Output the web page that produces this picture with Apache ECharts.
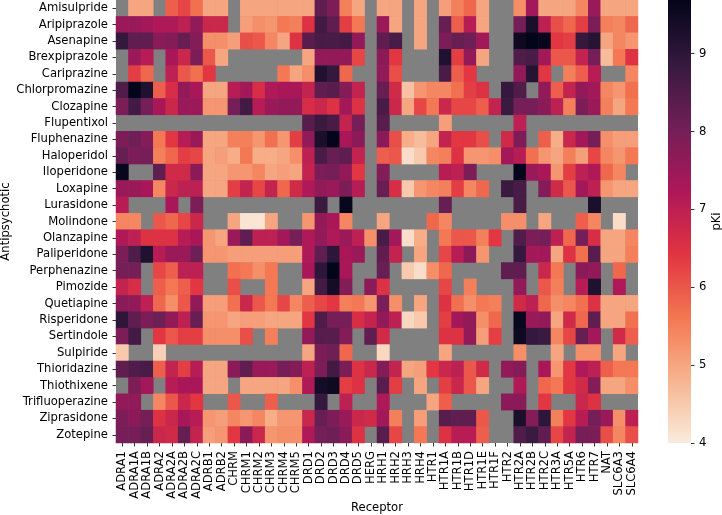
<!DOCTYPE html>
<html><head><meta charset="utf-8">
<style>html,body{margin:0;padding:0;background:#fff}#c{width:722px;height:515px}</style>
<script src="https://cdn.jsdelivr.net/npm/echarts@6/dist/echarts.min.js"></script>
</head><body><div id="c"></div>
<script>
const _ = null;
const receptors = ['ADRA1','ADRA1A','ADRA1B','ADRA2','ADRA2A','ADRA2B','ADRA2C','ADRB1','ADRB2','CHRM','CHRM1','CHRM2','CHRM3','CHRM4','CHRM5','DRD1','DRD2','DRD3','DRD4','DRD5','HERG','HRH1','HRH2','HRH3','HRH4','HTR1','HTR1A','HTR1B','HTR1D','HTR1E','HTR1F','HTR2','HTR2A','HTR2B','HTR2C','HTR3A','HTR5A','HTR6','HTR7','NAT','SLC6A3','SLC6A4'];
const drugs = ['Amisulpride','Aripiprazole','Asenapine','Brexpiprazole','Cariprazine','Chlorpromazine','Clozapine','Flupentixol','Fluphenazine','Haloperidol','Iloperidone','Loxapine','Lurasidone','Molindone','Olanzapine','Paliperidone','Perphenazine','Pimozide','Quetiapine','Risperidone','Sertindole','Sulpiride','Thioridazine','Thiothixene','Trifluoperazine','Ziprasidone','Zotepine'];
const amisulpride =[_,5.0,5.0,_,5.9,6.2,5.7,5.0,5.0,_,5.0,5.0,5.0,5.0,5.0,5.0,8.3,7.9,5.5,5.0,_,5.0,5.0,_,5.0,_,5.1,5.5,5.8,5.0,_,_,5.3,7.4,5.0,5.0,5.0,5.4,7.5,5.0,5.0,5.0];
const aripiprazole=[7.5,7.5,7.4,7.2,7.2,7.0,7.6,6.8,6.8,_,5.1,5.3,5.2,5.6,5.5,6.5,8.7,8.3,6.3,5.6,_,7.5,5.0,_,5.0,_,8.2,5.9,7.1,5.0,_,_,8.0,9.3,7.0,6.1,5.8,6.3,7.9,5.5,5.4,5.8];
const asenapine   =[8.9,8.3,8.3,7.7,7.8,8.2,7.8,5.3,5.3,5.1,6.1,6.0,5.4,5.0,6.5,8.4,8.6,8.6,8.7,7.6,_,8.3,8.6,_,5.0,_,7.9,8.2,8.1,7.4,_,_,9.5,9.7,9.6,6.4,6.3,8.9,9.1,5.0,5.4,5.2];
const brexpiprazole=[_,7.5,7.1,_,7.3,6.8,7.9,6.0,5.0,_,_,_,_,_,_,5.0,7.6,7.6,7.6,6.2,_,7.7,6.4,_,_,_,9.2,6.3,7.6,5.0,_,_,8.5,8.6,7.4,6.0,6.0,6.9,8.0,4.7,5.6,6.5];
const cariprazine =[_,6.3,5.8,_,7.0,6.0,5.7,6.4,_,_,_,_,_,5.6,5.0,5.3,9.2,8.9,5.8,_,_,7.6,6.1,_,_,_,8.6,5.9,6.4,_,_,_,7.6,9.1,6.4,_,5.5,5.9,7.1,_,_,5.4];
const chlorpromazine=[8.5,9.7,9.2,5.9,6.6,7.6,7.3,5.0,5.0,7.1,7.4,6.6,7.2,7.3,7.3,6.9,8.3,8.4,7.8,6.9,_,8.2,6.7,4.6,5.2,5.4,5.4,5.7,6.3,6.5,_,8.9,8.5,_,7.6,5.9,6.9,7.6,7.4,5.4,5.2,5.7];
const clozapine   =[7.9,8.7,8.0,7.3,6.8,7.5,7.5,5.2,5.2,8.0,8.7,7.1,7.5,7.6,7.6,6.6,6.8,6.5,7.4,6.5,_,8.6,6.8,5.0,6.2,5.6,6.8,6.2,6.2,5.9,6.9,8.8,8.0,8.0,7.7,7.0,5.5,7.9,7.5,5.5,5.0,5.6];
const flupentixol =[_,_,_,_,_,_,_,_,_,_,_,_,_,_,_,8.4,8.8,8.6,6.9,8.0,_,8.4,_,_,_,_,5.1,_,_,_,_,_,7.0,_,_,_,_,_,_,_,_,_];
const fluphenazine=[7.9,8.1,7.8,5.6,6.4,7.1,7.5,5.0,5.0,5.5,5.5,5.2,5.7,5.2,6.3,7.6,9.3,9.7,7.3,7.7,_,7.7,6.1,4.9,4.7,5.0,6.9,6.4,6.4,6.1,_,6.7,7.9,_,5.9,4.9,6.8,7.4,8.0,5.3,5.1,5.1];
const haloperidol =[8.2,7.9,8.0,5.5,5.8,6.3,6.2,5.0,5.1,4.9,5.6,4.9,4.9,5.0,5.3,7.0,8.6,8.2,8.3,6.9,_,5.9,6.0,4.2,4.5,5.4,5.5,6.5,5.2,5.2,5.3,7.4,7.1,5.7,5.2,5.0,5.5,5.1,6.2,5.4,5.2,5.6];
const iloperidone =[9.6,_,_,8.3,6.7,6.7,7.7,5.0,5.0,5.2,5.2,5.4,5.0,5.1,5.0,6.9,7.9,8.0,7.6,6.4,_,7.8,_,_,_,_,7.1,7.0,7.9,_,_,_,9.7,7.5,7.3,5.2,6.3,7.0,7.2,5.8,5.4,_];
const loxapine    =[7.5,7.5,7.3,5.4,6.8,7.0,7.0,5.0,5.0,6.3,6.9,6.2,6.9,5.8,6.7,7.2,7.6,7.5,7.9,7.1,_,8.2,6.6,4.5,5.2,5.4,5.5,6.3,5.4,5.8,_,8.8,8.6,_,7.8,6.7,6.0,7.4,7.0,5.2,5.0,5.0];
const lurasidone  =[7.1,_,_,_,7.3,_,7.9,_,_,_,_,_,_,_,_,_,8.8,_,9.6,_,_,_,_,_,_,_,8.2,_,_,_,_,_,8.6,_,_,_,_,_,9.3,_,_,_];
const molindone   =[5.4,5.4,_,6.0,5.8,6.2,6.8,_,_,5.0,4.1,4.1,5.0,_,_,5.2,7.6,7.3,5.4,_,_,5.0,_,_,_,5.8,5.4,_,_,_,_,5.3,5.3,_,5.0,_,_,5.9,5.4,_,4.2,_];
const olanzapine  =[7.2,7.0,6.5,6.5,6.5,7.1,7.3,5.2,5.0,7.5,8.3,7.0,7.0,7.4,8.0,7.2,7.6,7.2,7.5,7.0,5.3,8.6,7.4,4.2,4.9,_,5.6,6.0,6.0,5.5,6.4,_,8.5,7.9,8.0,7.0,5.8,8.0,6.6,5.0,5.0,5.4];
const paliperidone=[7.9,8.5,9.2,7.1,7.5,7.5,8.1,5.2,5.2,5.1,5.1,5.1,5.1,5.1,5.1,7.2,8.3,9.0,7.3,7.5,_,8.3,6.9,_,5.0,_,6.2,7.1,7.7,5.2,_,_,8.9,7.4,7.4,5.0,6.5,5.7,8.4,5.0,5.0,5.5];
const perphenazine=[8.0,8.0,_,6.2,5.9,7.0,7.0,_,_,5.7,5.6,5.3,5.6,_,_,7.3,9.0,9.7,7.3,_,_,8.2,_,4.5,4.2,5.3,5.8,_,_,_,_,8.3,8.3,_,6.8,5.6,_,7.7,7.6,_,5.8,_];
const pimozide    =[6.9,6.6,_,5.9,5.6,5.9,6.4,_,_,6.1,_,_,5.6,_,_,5.0,8.7,9.4,7.8,_,7.7,6.5,_,_,_,_,6.2,_,5.5,_,_,_,7.6,_,6.0,5.5,_,7.1,9.2,_,7.2,_];
const quetiapine  =[7.7,7.6,7.0,5.8,5.3,6.0,7.6,5.1,5.1,5.7,6.8,6.0,5.6,6.2,5.4,5.9,6.2,6.4,5.5,5.6,5.2,7.9,5.3,_,5.0,_,6.5,5.7,5.3,5.6,5.5,_,6.7,7.0,5.8,5.3,5.4,5.7,6.5,5.0,5.0,5.0];
const risperidone =[9.0,8.3,7.9,8.1,7.6,7.0,8.2,5.2,5.2,5.0,5.1,5.1,5.0,5.0,5.0,6.4,8.5,8.0,8.0,6.6,6.9,7.6,7.0,4.3,4.5,_,6.3,7.4,7.6,5.3,5.8,_,9.6,7.5,7.6,5.0,6.7,5.8,8.3,5.0,5.0,5.7];
const sertindole  =[7.9,8.7,_,6.4,6.0,6.3,6.3,5.3,5.3,5.3,6.1,_,5.5,_,_,7.6,8.4,8.4,7.8,_,8.3,6.7,_,_,_,_,6.5,6.5,7.6,5.1,6.3,_,9.5,8.9,8.8,5.4,6.2,8.2,7.4,_,6.7,5.9];
const sulpiride   =[4.5,_,_,4.4,_,_,_,_,_,_,_,_,_,_,_,5.0,7.9,8.1,5.8,_,_,4.3,_,_,_,_,5.0,_,_,_,_,_,5.3,_,_,5.0,_,5.3,5.3,_,5.0,_];
const thioridazine=[8.3,8.5,8.6,5.9,6.9,6.3,7.1,5.0,5.0,7.7,8.3,7.5,7.5,8.0,7.8,7.0,7.9,8.7,7.9,6.5,6.8,7.8,6.9,5.0,5.1,6.4,6.8,7.0,6.0,6.7,_,7.6,7.8,_,7.3,5.2,6.4,7.2,7.0,5.9,5.6,5.6];
const thiothixene =[_,7.9,7.4,_,7.1,7.3,7.3,5.0,5.0,_,5.0,5.0,5.0,5.0,5.3,7.2,9.4,9.5,6.3,6.5,_,8.4,6.3,_,5.0,_,6.3,6.8,6.0,5.0,_,_,7.2,_,5.8,5.6,6.4,6.7,7.8,5.0,5.0,5.3];
const trifluoperazine=[7.6,7.6,_,5.4,6.0,6.8,6.4,_,_,6.0,_,_,5.9,_,_,_,8.9,_,7.0,_,_,7.2,_,_,_,5.0,5.9,_,_,_,_,7.7,7.7,_,6.4,_,_,6.8,6.5,_,_,_];
const ziprasidone =[7.9,7.7,8.0,6.5,6.8,7.3,7.1,5.2,5.1,5.4,5.2,5.4,4.9,5.2,5.2,6.8,8.2,7.9,7.5,6.8,6.7,7.4,5.5,_,5.1,_,8.4,8.3,8.3,6.0,_,_,9.3,7.8,9.0,5.5,6.4,7.1,8.0,7.5,5.3,7.0];
const zotepine    =[8.0,8.0,8.2,6.8,6.7,8.2,6.9,5.1,5.2,6.4,7.7,6.8,5.2,5.3,5.3,7.2,8.0,8.1,7.7,6.5,_,8.4,6.2,_,5.6,_,6.5,7.1,7.1,5.9,_,_,8.5,8.8,8.3,6.2,6.9,8.0,7.9,6.1,5.4,6.1];
const rows = [amisulpride,aripiprazole,asenapine,brexpiprazole,cariprazine,chlorpromazine,clozapine,flupentixol,fluphenazine,haloperidol,iloperidone,loxapine,lurasidone,molindone,olanzapine,paliperidone,perphenazine,pimozide,quetiapine,risperidone,sertindole,sulpiride,thioridazine,thiothixene,trifluoperazine,ziprasidone,zotepine];
const scaleMin = 4, scaleMax = 9.69;
const barTicks = [4,5,6,7,8,9];
const rocketR = ['#faebdd','#f6b48f','#f37651','#e13342','#ad1759','#701f57','#35193e','#03051a'];

const cells = [];
rows.forEach((r,y)=>r.forEach((v,x)=>{ if(v!==null) cells.push([x,y,v]); }));
const font = 'DejaVu Sans', ink = '#000', fs = 11.6;
const chart = echarts.init(document.getElementById('c'),null,{renderer:'canvas'});
chart.setOption({
  animation:false,
  backgroundColor:'#fff',
  textStyle:{fontFamily:font},
  grid:[
    {left:116,top:0,width:522,height:443,show:true,backgroundColor:'#808080',borderWidth:0,outerBoundsMode:'none',containLabel:false},
    {left:668,top:0,width:23,height:443,show:false,outerBoundsMode:'none',containLabel:false}
  ],
  xAxis:[
    {type:'category',gridIndex:0,data:receptors,position:'bottom',
     name:'Receptor',nameLocation:'middle',nameGap:59,nameMoveOverlap:false,nameTextStyle:{fontSize:fs,color:ink,fontFamily:font},
     axisLine:{show:false},axisTick:{show:true,length:3.5,alignWithLabel:true,lineStyle:{color:'#000',width:0.8}},
     axisLabel:{interval:0,rotate:90,fontSize:fs,color:ink,margin:8,fontFamily:font,hideOverlap:false},splitLine:{show:false}},
    {type:'category',gridIndex:1,data:['pKi'],show:false}
  ],
  yAxis:[
    {type:'category',gridIndex:0,data:drugs,inverse:true,
     name:'Antipsychotic',nameLocation:'middle',nameGap:104,nameMoveOverlap:false,nameRotate:90,nameTextStyle:{fontSize:fs,color:ink,fontFamily:font},
     axisLine:{show:false},axisTick:{show:true,length:3.5,alignWithLabel:true,lineStyle:{color:'#000',width:0.8}},
     axisLabel:{interval:0,fontSize:fs,color:ink,margin:8,fontFamily:font,hideOverlap:false},splitLine:{show:false}},
    {type:'value',gridIndex:1,position:'right',min:scaleMin,max:scaleMax,interval:1,
     name:'pKi',nameLocation:'middle',nameGap:20,nameMoveOverlap:false,nameRotate:90,nameTextStyle:{fontSize:fs,color:ink,fontFamily:font},
     axisLine:{show:false},
     axisTick:{show:true,length:3.5,customValues:barTicks,lineStyle:{color:'#000',width:0.8}},
     axisLabel:{fontSize:fs,color:ink,margin:8,customValues:barTicks,fontFamily:font},splitLine:{show:false}}
  ],
  visualMap:{show:false,type:'continuous',seriesIndex:0,min:scaleMin,max:scaleMax,inRange:{color:rocketR}},
  series:[
    {type:'heatmap',xAxisIndex:0,yAxisIndex:0,data:cells,progressive:0,itemStyle:{borderWidth:0},emphasis:{disabled:true}},
    {type:'bar',xAxisIndex:1,yAxisIndex:1,data:[scaleMax],barWidth:'100%',silent:true,
     itemStyle:{color:new echarts.graphic.LinearGradient(0,1,0,0,rocketR.map((c,i)=>({offset:i/(rocketR.length-1),color:c})))}}
  ]
});
</script></body></html>
